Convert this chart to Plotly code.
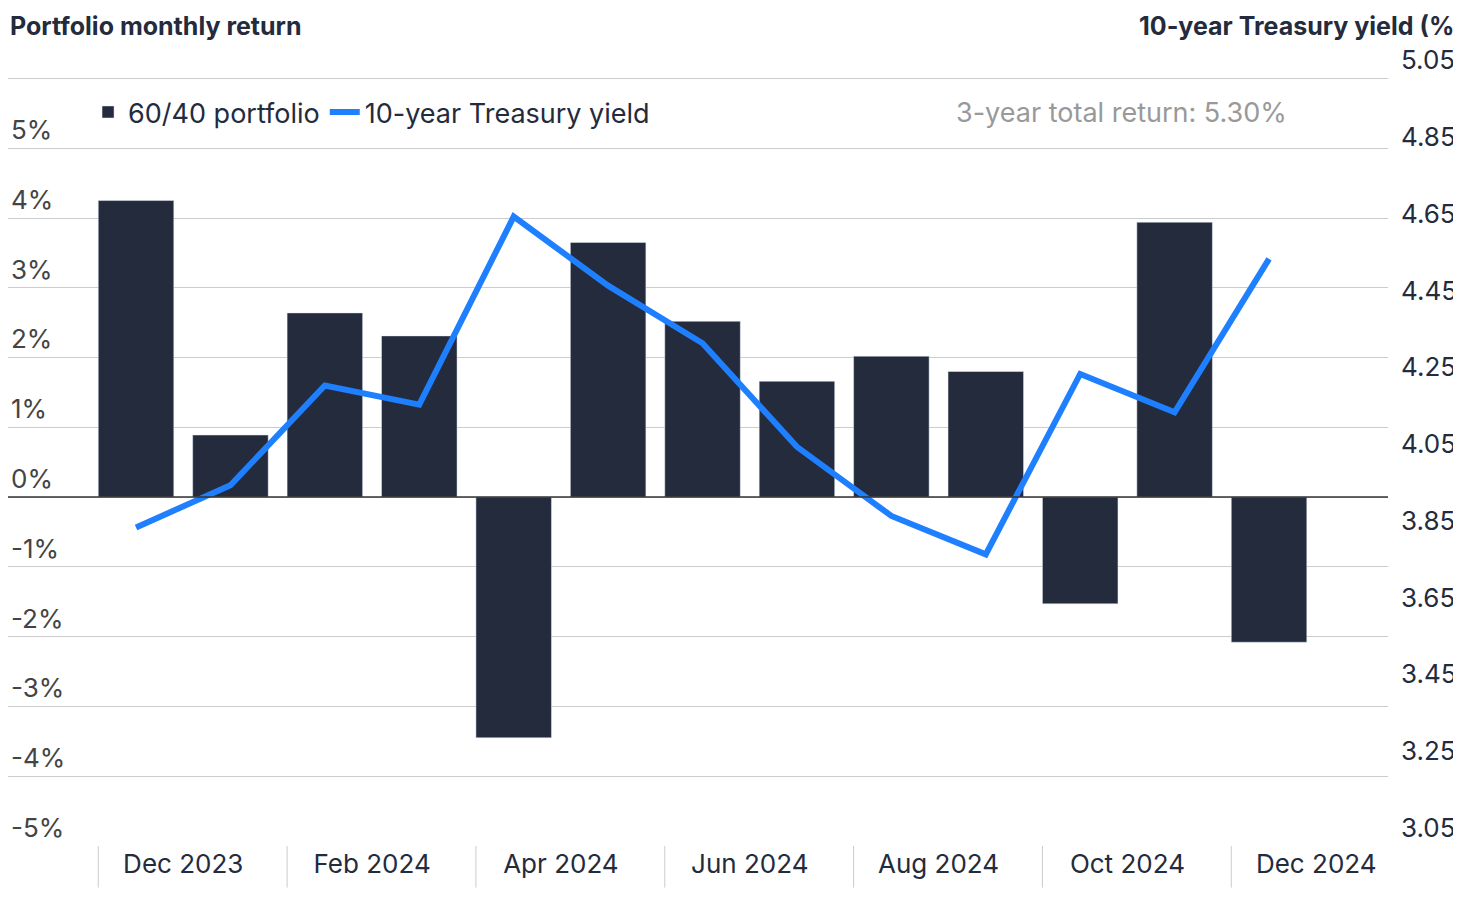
import plotly.graph_objects as go

months = ["Dec 2023","Jan 2024","Feb 2024","Mar 2024","Apr 2024","May 2024","Jun 2024",
          "Jul 2024","Aug 2024","Sep 2024","Oct 2024","Nov 2024","Dec 2024"]
returns = [4.25, 0.89, 2.64, 2.31, -3.45, 3.65, 2.52, 1.66, 2.02, 1.80, -1.53, 3.94, -2.08]
yields = [3.88, 3.99, 4.25, 4.20, 4.69, 4.51, 4.36, 4.09, 3.91, 3.81, 4.28, 4.18, 4.58]
tick_labels = ["Dec 2023","Feb 2024","Apr 2024","Jun 2024","Aug 2024","Oct 2024","Dec 2024"]
left_ticks = list(range(-5, 7))
right_ticks = [3.05, 3.25, 3.45, 3.65, 3.85, 4.05, 4.25, 4.45, 4.65, 4.85, 5.05]

FONT = "Inter"
xs = list(range(len(months)))
top_extra = 0.25  # extra room above 6% so its label is visible

fig = go.Figure()
fig.add_trace(go.Bar(x=xs, y=returns, width=0.8, marker_color="#232B3D", name="60/40 portfolio",
                     hovertext=months))
fig.add_trace(go.Scatter(x=xs, y=yields, yaxis="y2", mode="lines", name="10-year Treasury yield",
                         line=dict(color="#1E7FFF", width=6), hovertext=months))

shapes = [dict(type="line", xref="x", yref="paper", x0=-0.4 + 2*k, x1=-0.4 + 2*k, y0=0, y1=-0.053,
               line=dict(color="#cccccc", width=1)) for k in range(7)]
shapes.append(dict(type="line", xref="paper", yref="y", x0=0, x1=1, y0=0, y1=0,
                   line=dict(color="#333333", width=1.5)))

plot_h = 768 * (11 + top_extra) / 11
top_m = int(round(901 - 63 - plot_h))

fig.update_layout(
    width=1461, height=901, margin=dict(l=0, r=81, t=top_m, b=63, autoexpand=False),
    paper_bgcolor="white", plot_bgcolor="white",
    font=dict(family=FONT, size=26, color="#232B3D"),
    xaxis=dict(range=[-1.356, 13.26], tickvals=[0.5 + 2*k for k in range(7)], ticktext=tick_labels,
               showgrid=False, zeroline=False, showline=False, ticks="", automargin=False),
    yaxis=dict(range=[-5, 6 + top_extra], tickvals=left_ticks, ticktext=[f"{v}%" for v in left_ticks],
               ticklabelposition="inside top", showgrid=True, gridcolor="#cccccc", gridwidth=1,
               zeroline=False, showline=False, ticks="", automargin=False),
    yaxis2=dict(range=[3.05, 5.05 + top_extra * 2 / 11], overlaying="y", side="right",
                tickvals=right_ticks, ticktext=[f"{v:.2f}" for v in right_ticks],
                ticklabelposition="outside top", ticklabelstandoff=12, automargin=False,
                showgrid=False, zeroline=False, showline=False, ticks=""),
    legend=dict(orientation="h", x=0.058, y=(838 - 104) / plot_h, xanchor="left", yanchor="middle",
                font=dict(size=27), bgcolor="rgba(0,0,0,0)"),
    shapes=shapes,
    annotations=[
        dict(text="<b>Portfolio monthly return</b>", xref="paper", yref="paper", x=0, y=1.0,
             xanchor="left", yanchor="middle", yshift=top_m - 18, showarrow=False, font=dict(size=25)),
        dict(text="<b>10-year Treasury yield (%)</b>", xref="paper", yref="paper", x=1, xshift=78,
             y=1.0, xanchor="right", yanchor="middle", yshift=top_m - 18, showarrow=False,
             font=dict(size=25)),
        dict(text="3-year total return: 5.30%", xref="paper", yref="paper", x=0.807,
             y=(838 - 104) / plot_h, xanchor="center", yanchor="middle", showarrow=False,
             font=dict(size=27, color="#999999")),
    ],
)
fig.write_html("out.html")
